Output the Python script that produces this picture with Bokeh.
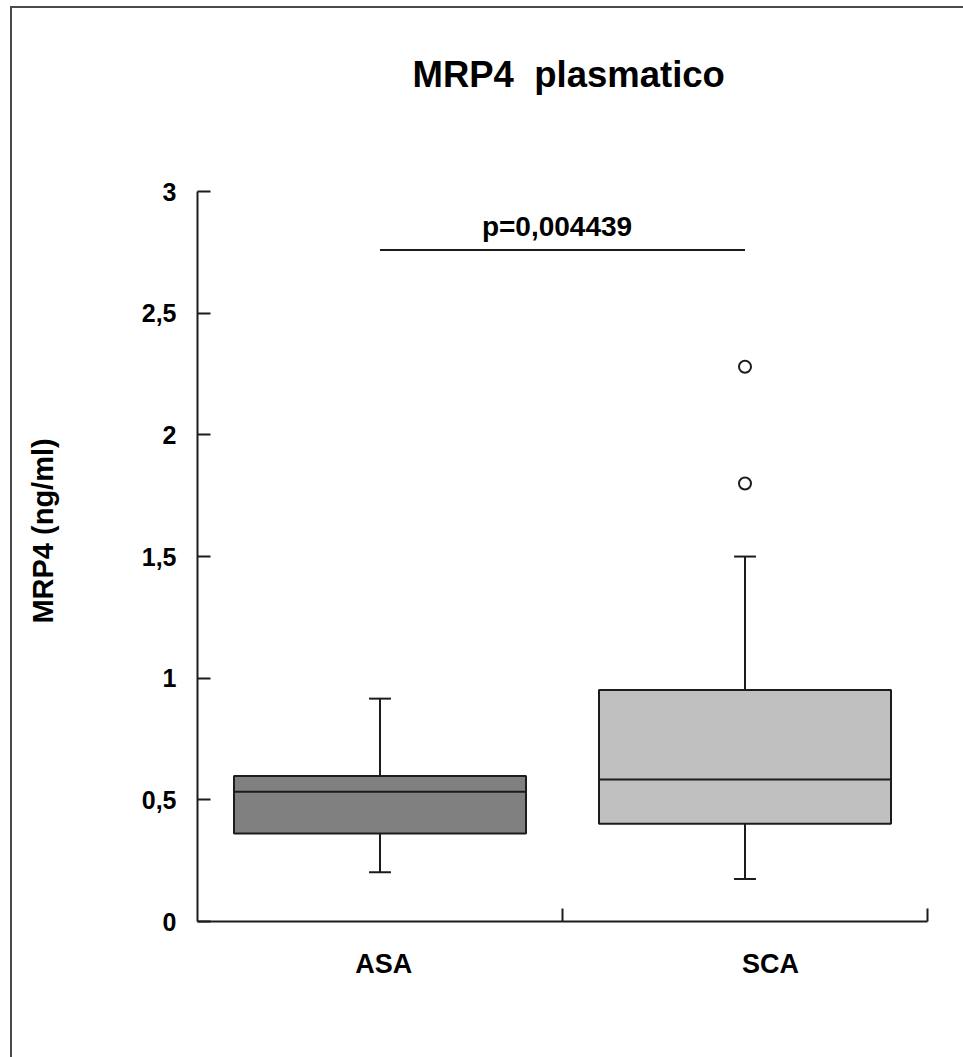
from bokeh.plotting import figure
from bokeh.models import Range1d, FixedTicker, ColumnDataSource
from bokeh.core.properties import value
from bokeh.embed import file_html
from bokeh.resources import INLINE

# ---- data ----
categories = ["ASA", "SCA"]
q1 = [0.362, 0.402]
median = [0.533, 0.584]
q3 = [0.598, 0.951]
whisker_low = [0.202, 0.175]
whisker_high = [0.916, 1.50]
outlier_group = ["SCA", "SCA"]
outlier_values = [1.80, 2.28]
box_colors = ["#808080", "#c0c0c0"]
y_ticks = [0, 0.5, 1, 1.5, 2, 2.5, 3]
y_tick_labels = ["0", "0,5", "1", "1,5", "2", "2,5", "3"]
y_axis_max = 3
x_label_pos = [0.51, 1.57]
p_value_text = "p=0,004439"
p_value_y = 2.76
title_text = "MRP4\u00a0 plasmatico"
y_label_text = "MRP4 (ng/ml)"

FONT = "Liberation Sans"
INK = "#1c1c1c"

xpos = [i + 0.5 for i in range(len(categories))]
pos_of = dict(zip(categories, xpos))

# frame extends a little above the axis top so the title can sit higher
p = figure(width=963, height=1057, x_range=Range1d(0, 2), y_range=Range1d(0, 3.21),
           output_backend="svg", toolbar_location=None,
           min_border_left=197, min_border_right=36, min_border_top=140, min_border_bottom=136,
           title=title_text)
p.border_fill_color = None
p.background_fill_color = "white"
p.outline_line_color = None
p.grid.visible = False
p.styles = {
    "background": "linear-gradient(#4a4a4a,#4a4a4a) 10px 6px / 960px 2px no-repeat, "
                  "linear-gradient(#4a4a4a,#4a4a4a) 10px 6px / 2px 1060px no-repeat, white"
}

p.title.text_font = FONT
p.title.text_font_style = "bold"
p.title.text_font_size = "36.5px"
p.title.align = "left"
p.title.offset = 215
p.title.standoff = 92
p.title.text_color = "black"

# boxes
src = ColumnDataSource(dict(x=xpos, q1=q1, q3=q3, med=median, lo=whisker_low, hi=whisker_high,
                            color=box_colors))
p.segment(x0="x", y0="q3", x1="x", y1="hi", source=src, line_color=INK, line_width=2)
p.segment(x0="x", y0="lo", x1="x", y1="q1", source=src, line_color=INK, line_width=2)
cap_src = ColumnDataSource(dict(x0=[x - 0.03 for x in xpos], x1=[x + 0.03 for x in xpos],
                                lo=whisker_low, hi=whisker_high))
p.segment(x0="x0", y0="hi", x1="x1", y1="hi", source=cap_src, line_color=INK, line_width=2)
p.segment(x0="x0", y0="lo", x1="x1", y1="lo", source=cap_src, line_color=INK, line_width=2)
p.vbar(x="x", width=0.8, bottom="q1", top="q3", source=src, fill_color="color",
       line_color=INK, line_width=2)
med_src = ColumnDataSource(dict(x0=[x - 0.4 for x in xpos], x1=[x + 0.4 for x in xpos], y=median))
p.segment(x0="x0", y0="y", x1="x1", y1="y", source=med_src, line_color=INK, line_width=2)

# outliers
p.scatter(x=[pos_of[g] for g in outlier_group], y=outlier_values, size=12, marker="circle",
          fill_color="white", line_color=INK, line_width=2)

# significance bar
p.segment(x0=[xpos[0]], y0=[p_value_y], x1=[xpos[1]], y1=[p_value_y], line_color=INK, line_width=2)
p.text(x=[(xpos[0] + xpos[1]) / 2 - 0.015], y=[p_value_y + 0.095], text=[p_value_text],
       text_font=value(FONT), text_font_style="bold", text_font_size="28px",
       text_align="center", text_baseline="alphabetic", text_color="black")

# axes
xa = p.xaxis[0]
xa.ticker = FixedTicker(ticks=x_label_pos, minor_ticks=[1, 2])
xa.major_label_overrides = dict(zip(x_label_pos, categories))
xa.major_tick_in = 0
xa.major_tick_out = 0
xa.minor_tick_in = 13
xa.minor_tick_out = 0
xa.minor_tick_line_color = INK
xa.minor_tick_line_width = 2
xa.axis_line_color = INK
xa.axis_line_width = 2
xa.major_label_standoff = 27
xa.major_label_text_font = FONT
xa.major_label_text_font_style = "bold"
xa.major_label_text_font_size = "27px"
xa.major_label_text_color = "black"

ya = p.yaxis[0]
ya.bounds = (0, y_axis_max)
ya.ticker = FixedTicker(ticks=y_ticks, minor_ticks=[])
ya.major_label_overrides = dict(zip(y_ticks, y_tick_labels))
ya.major_tick_in = 13
ya.major_tick_out = 0
ya.major_tick_line_color = INK
ya.major_tick_line_width = 2
ya.axis_line_color = INK
ya.axis_line_width = 2
ya.major_label_standoff = 21
ya.major_label_text_font = FONT
ya.major_label_text_font_style = "bold"
ya.major_label_text_font_size = "25px"
ya.major_label_text_color = "black"
ya.axis_label = y_label_text
ya.axis_label_text_font = FONT
ya.axis_label_text_font_style = "bold"
ya.axis_label_text_font_size = "29px"
ya.axis_label_text_color = "black"
ya.axis_label_standoff = 80

open("out.html", "w").write(file_html(p, INLINE))
